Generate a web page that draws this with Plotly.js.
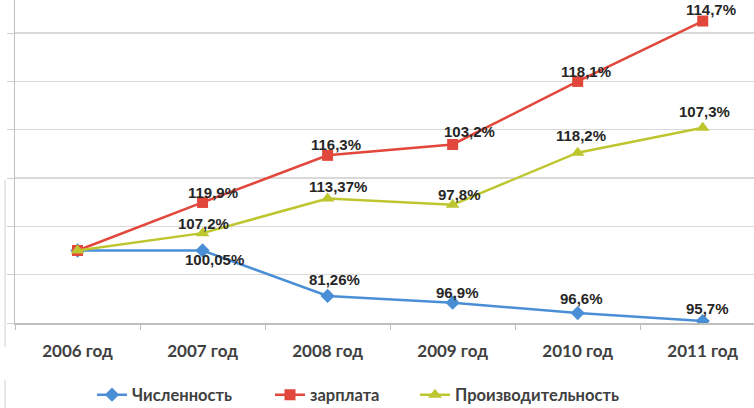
<!DOCTYPE html>
<html>
<head>
<meta charset="utf-8">
<script src="https://cdn.plot.ly/plotly-3.0.1.min.js"></script>
<style>html,body{margin:0;padding:0;background:#fff;}#chart{width:754px;height:408px;}</style>
</head>
<body>
<div id="chart"></div>
<script>
// Categories
var years = ["2006 год", "2007 год", "2008 год", "2009 год", "2010 год", "2011 год"];

// Series values (index level, 2006 = 100)
var headcount = [100, 100, 81.2, 78.4, 74.1, 70.8];
var salary = [100, 119.9, 139.4, 143.9, 170, 195];
var productivity = [100, 107.2, 121.5, 118.9, 140.5, 150.8];

// Data labels (yearly growth rates as printed)
var headcountLabels = ["", "100,05%", "81,26%", "96,9%", "96,6%", "95,7%"];
var salaryLabels = ["", "119,9%", "116,3%", "103,2%", "118,1%", "114,7%"];
var productivityLabels = ["", "107,2%", "113,37%", "97,8%", "118,2%", "107,3%"];

// Label offsets in pixels (style)
var headcountDx = [0, 12, 7, 5, 4, 5], headcountDy = [0, -9, 16, 10, 15, 13];
var salaryDx = [0, 10, 8, 17, 8, 8], salaryDy = [0, 10, 11, 13, 10, 12];
var productivityDx = [0, 1, 10, 7, 3, 2], productivityDy = [0, 10, 12, 10, 17, 16];

var blue = "#4A8FD6", red = "#E2473B", yellow = "#BEC62F";

var traces = [
  {x: years, y: headcount, name: "Численность", type: "scatter", mode: "lines+markers", legend: "legend",
   line: {color: blue, width: 2.5}, marker: {symbol: "diamond", size: 11, color: blue}},
  {x: years, y: salary, name: "зарплата", type: "scatter", mode: "lines+markers", legend: "legend2",
   line: {color: red, width: 2.5}, marker: {symbol: "square", size: 11, color: red}},
  {x: years, y: productivity, name: "Производительность", type: "scatter", mode: "lines+markers", legend: "legend3",
   line: {color: yellow, width: 2.5}, marker: {symbol: "triangle-up", size: 12, color: yellow}}
];

var annotations = [];
function addLabels(vals, labels, dx, dy) {
  for (var i = 0; i < vals.length; i++) {
    if (!labels[i]) continue;
    annotations.push({x: years[i], y: vals[i], text: labels[i], showarrow: false,
      xshift: dx[i], yshift: dy[i],
      font: {family: "Liberation Sans, Arial, sans-serif", size: 15, color: "#262626", weight: "bold"}});
  }
}
addLabels(headcount, headcountLabels, headcountDx, headcountDy);
addLabels(salary, salaryLabels, salaryDx, salaryDy);
addLabels(productivity, productivityLabels, productivityDx, productivityDy);

function legendAt(px) {
  return {orientation: "h", x: px / 754, xanchor: "left", xref: "container",
          y: 0.032, yanchor: "middle", yref: "container",
          font: {family: "Lato, sans-serif", size: 16.5, color: "#404040", weight: "bold"},
          itemwidth: 30, bgcolor: "rgba(0,0,0,0)"};
}

var layout = {
  width: 754, height: 408,
  margin: {l: 15, r: 0, t: 0, b: 85},
  paper_bgcolor: "#ffffff", plot_bgcolor: "#ffffff",
  showlegend: true,
  legend: legendAt(92),
  legend2: legendAt(270),
  legend3: legendAt(415),
  xaxis: {type: "category", range: [-0.5, 5.41], showgrid: false, zeroline: false,
          showline: true, linecolor: "#bfbfbf", linewidth: 1.5,
          ticks: "outside", tickson: "boundaries", ticklen: 5, tickcolor: "#bfbfbf",
          ticklabelstandoff: 12,
          tickfont: {family: "Lato, sans-serif", size: 17, color: "#404040", weight: "bold"}},
  yaxis: {range: [70, 203.7], dtick: 20, tick0: 70, showticklabels: false,
          showgrid: true, gridcolor: "#d9d9d9", gridwidth: 1.5, zeroline: false,
          showline: true, linecolor: "#bfbfbf", linewidth: 1.5,
          ticks: "outside", ticklen: 7, tickcolor: "#d0d0d0"},
  annotations: annotations,
  shapes: [
    {type: "line", xref: "paper", yref: "paper", x0: -0.0135, x1: -0.0135, y0: 0.443, y1: -0.075,
     line: {color: "#d0d0d0", width: 1}},
    {type: "line", xref: "paper", yref: "paper", x0: -0.0135, x1: -0.0135, y0: -0.176, y1: -0.27,
     line: {color: "#d0d0d0", width: 1}}
  ]
};

Plotly.newPlot("chart", traces, layout, {displayModeBar: false, staticPlot: true});
</script>
</body>
</html>
